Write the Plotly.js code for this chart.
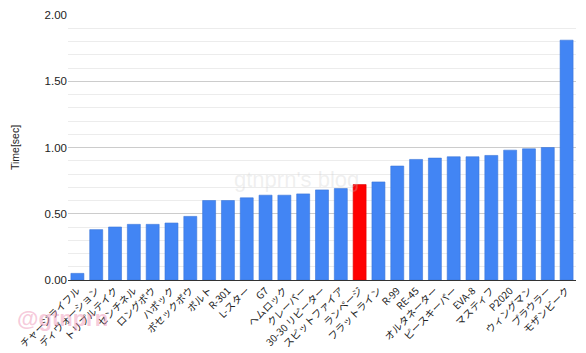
<!DOCTYPE html>
<html><head><meta charset="utf-8">
<script src="https://cdn.plot.ly/plotly-3.0.1.min.js"></script>
<style>html,body{margin:0;padding:0;background:#fff}#chart{width:586px;height:353px}</style>
</head><body><div id="chart"></div>
<script>
const categories = ["チャージライフル","ディヴォーション","トリプルテイク","センチネル","ロングボウ","ハボック","ボセックボウ","ボルト","R-301","L-スター","G7","ヘムロック","クレーバー","30-30 リピーター","スピットファイア","ランページ","フラットライン","R-99","RE-45","オルタネーター","ピースキーパー","EVA-8","マスティフ","P2020","ウィングマン","プラウラー","モザンビーク"];
const times = [0.05,0.38,0.40,0.42,0.42,0.43,0.48,0.60,0.60,0.62,0.64,0.64,0.65,0.68,0.69,0.72,0.74,0.86,0.91,0.92,0.93,0.93,0.94,0.98,0.99,1.00,1.81];
const highlight = "ランページ";
const colors = categories.map(c => c === highlight ? "#ff0000" : "#4285f4");
const lineColors = categories.map(c => c === highlight ? "#d80000" : "#3a76d8");
const font = "Liberation Sans, Arial, Noto Sans CJK JP, sans-serif";
Plotly.newPlot("chart", [{
  type: "bar", x: categories, y: times,
  marker: {color: colors, line: {color: lineColors, width: 0.6}},
  width: 0.69, hoverinfo: "x+y"
}], {
  width: 586, height: 353,
  margin: {l: 68, r: 10, t: 15, b: 73},
  paper_bgcolor: "#fff", plot_bgcolor: "#fff",
  font: {family: font, size: 11, color: "#222"},
  showlegend: false,
  xaxis: {type: "category", tickangle: -45, tickfont: {size: 10, color: "#222", family: "Noto Sans CJK JP, Liberation Sans, sans-serif"},
    showgrid: false, showline: true, linecolor: "#333", linewidth: 1, ticks: "", automargin: false},
  yaxis: {range: [0, 2], dtick: 0.5, tickformat: ".2f", showgrid: true, gridcolor: "#cccccc",
    zeroline: false, ticks: "", tickfont: {size: 11.5, color: "#222"},
    minor: {dtick: 0.1, showgrid: true, gridcolor: "#ececec"},
    title: {text: "Time[sec]", font: {size: 10.5, color: "#222"}, standoff: 22}, automargin: false},
  annotations: [
    {text: "gtnprn's blog", xref: "paper", yref: "paper", x: 0.45, y: 0.38, showarrow: false,
      font: {size: 22, color: "rgba(200,200,200,0.28)", family: font}},
    {text: "<b>@gtnprn</b>", xref: "paper", yref: "paper", x: -0.105, y: -0.145, xanchor: "left", yanchor: "middle", showarrow: false,
      font: {size: 22, color: "rgba(235,140,175,0.45)", family: font}}
  ]
}, {displayModeBar: false, staticPlot: true});
</script></body></html>
